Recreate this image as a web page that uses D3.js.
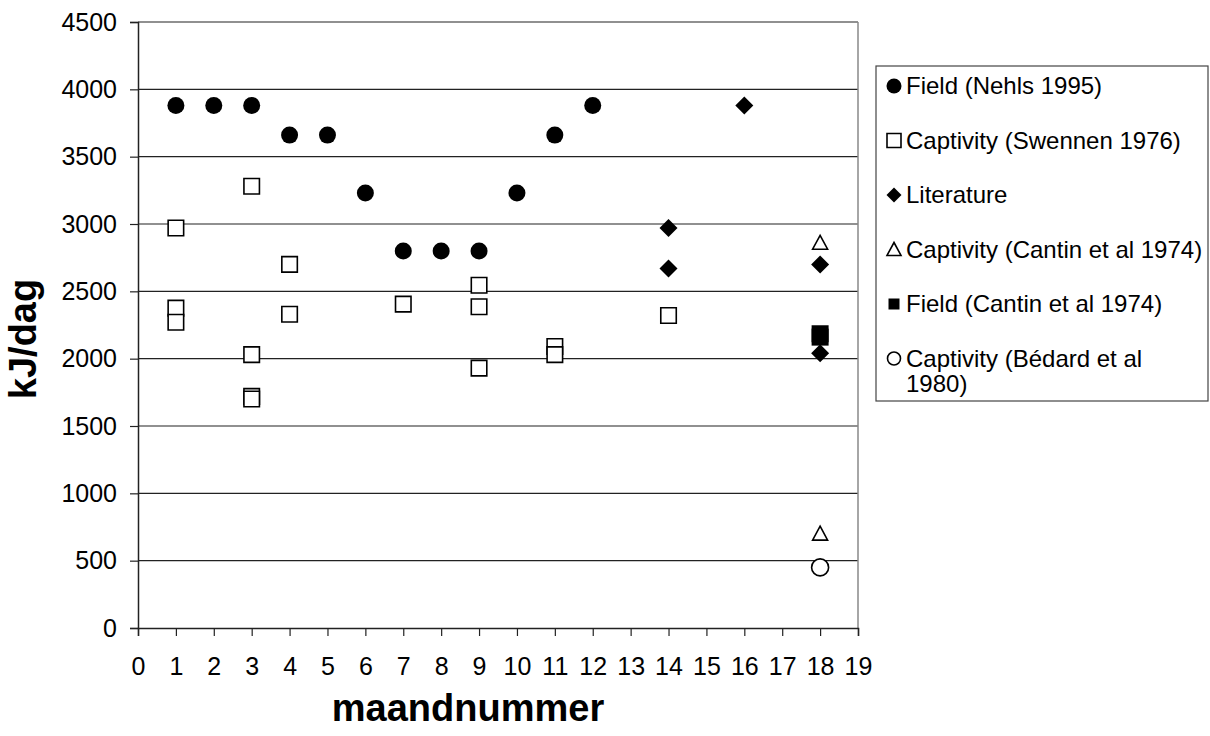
<!DOCTYPE html>
<html>
<head>
<meta charset="utf-8">
<script src="https://cdn.jsdelivr.net/npm/d3@7"></script>
<style>
  body { margin: 0; background: #fff; }
  svg { font-family: "Liberation Sans", Arial, sans-serif; }
</style>
</head>
<body>
<div id="chart"></div>
<script>
// Series values: [month, kJ/day]
const nehls = [[1,3880],[2,3880],[3,3880],[4,3660],[5,3660],[6,3230],[7,2800],[8,2800],[9,2800],[10,3230],[11,3660],[12,3880]];
const swennen = [[1,2970],[1,2375],[1,2270],[3,3280],[3,2030],[3,1720],[3,1700],[4,2700],[4,2330],[7,2405],[9,2545],[9,2385],[9,1930],[11,2090],[11,2030],[14,2320]];
const literature = [[16,3880],[14,2970],[14,2670],[18,2700],[18,2040]];
const cantinCaptivity = [[18,2860],[18,700]];
const cantinField = [[18,2185],[18,2160]];
const bedard = [[18,450]];

const xTicks = d3.range(0, 20);
const yTicks = d3.range(0, 4501, 500);

const series = [
  { name: "Field (Nehls 1995)", data: nehls, shape: "circle", fill: "#000" },
  { name: "Captivity (Swennen 1976)", data: swennen, shape: "square", fill: "#fff" },
  { name: "Literature", data: literature, shape: "diamond", fill: "#000" },
  { name: "Captivity (Cantin et al 1974)", data: cantinCaptivity, shape: "triangle", fill: "#fff" },
  { name: "Field (Cantin et al 1974)", data: cantinField, shape: "square", fill: "#000" },
  { name: ["Captivity (Bédard et al", "1980)"], data: bedard, shape: "circle", fill: "#fff" }
];

const width = 1210, height = 736;
const m = { left: 138, right: 352, top: 22, bottom: 108 };

const svg = d3.select("#chart").append("svg")
  .attr("width", width)
  .attr("height", height);

const x = d3.scaleLinear().domain([0, 19]).range([m.left, width - m.right]);
const y = d3.scaleLinear().domain([0, 4500]).range([height - m.bottom, m.top]);

// horizontal gridlines
svg.append("g")
  .selectAll("line")
  .data(yTicks.filter(d => d > 0))
  .join("line")
  .attr("x1", x(0)).attr("x2", x(19))
  .attr("y1", d => y(d)).attr("y2", d => y(d))
  .attr("stroke", "#222").attr("stroke-width", 1.2);

// right border of plot area
svg.append("line")
  .attr("x1", x(19)).attr("x2", x(19))
  .attr("y1", y(4500)).attr("y2", y(0))
  .attr("stroke", "#888").attr("stroke-width", 1.5);

// axes
const yAxis = svg.append("g")
  .attr("transform", `translate(${x(0)},0)`)
  .call(d3.axisLeft(y).tickValues(yTicks).tickSize(8).tickPadding(13).tickFormat(d3.format("d")));
const xAxis = svg.append("g")
  .attr("transform", `translate(0,${y(0)})`)
  .call(d3.axisBottom(x).tickValues(xTicks).tickSize(8).tickPadding(21).tickFormat(d3.format("d")));

[yAxis, xAxis].forEach(a => {
  a.select(".domain").attr("stroke", "#222").attr("stroke-width", 1.5);
  a.selectAll(".tick line").attr("stroke", "#222").attr("stroke-width", 1.2);
  a.selectAll(".tick text").attr("fill", "#000").style("font-size", "25px");
});

// axis titles
svg.append("text")
  .attr("transform", `translate(36,${(y(0) + y(4500)) / 2 + 14}) rotate(-90)`)
  .attr("text-anchor", "middle")
  .style("font-size", "38px").style("font-weight", "bold")
  .text("kJ/dag");
svg.append("text")
  .attr("x", (x(0) + x(19)) / 2 - 30).attr("y", 721)
  .attr("text-anchor", "middle")
  .style("font-size", "38px").style("font-weight", "bold")
  .text("maandnummer");

// marker paths, w = overall width in px
function shapePath(shape, w) {
  const h = w / 2;
  if (shape === "circle") {
    const p = d3.path(); p.arc(0, 0, h, 0, 2 * Math.PI); return p.toString();
  }
  if (shape === "square") return `M${-h},${-h}H${h}V${h}H${-h}Z`;
  if (shape === "diamond") return `M0,${-h}L${h},0L0,${h}L${-h},0Z`;
  if (shape === "triangle") return `M0,${-h}L${h},${h * 0.85}L${-h},${h * 0.85}Z`;
}

function marker(sel, shape, fill, w) {
  sel.attr("d", shapePath(shape, w))
    .attr("fill", fill)
    .attr("stroke", "#000")
    .attr("stroke-width", fill === "#000" ? 0 : 1.6);
}

const sizes = { circle: 17, square: 15.5, diamond: 18, triangle: 15 };

series.forEach(s => {
  const w = s.shape === "square" && s.fill === "#000" ? 17 : sizes[s.shape];
  svg.append("g")
    .selectAll("path")
    .data(s.data)
    .join("path")
    .attr("transform", d => `translate(${x(d[0])},${y(d[1])})`)
    .call(marker, s.shape, s.fill, w);
});

// legend
const lg = svg.append("g");
lg.append("rect")
  .attr("x", 876).attr("y", 66).attr("width", 332).attr("height", 335)
  .attr("fill", "#fff").attr("stroke", "#444").attr("stroke-width", 1.2);

const legendSizes = [15, 14, 15, 14, 11, 13];
series.forEach((s, i) => {
  const cy = 86 + i * 54.5;
  lg.append("path")
    .attr("transform", `translate(894,${cy})`)
    .call(marker, s.shape, s.fill, legendSizes[i]);
  const t = lg.append("text")
    .attr("x", 906).attr("y", cy + 8)
    .style("font-size", "24px");
  const lines = Array.isArray(s.name) ? s.name : [s.name];
  lines.forEach((l, j) => t.append("tspan").attr("x", 906).attr("dy", j ? 25 : 0).text(l));
});
</script>
</body>
</html>
